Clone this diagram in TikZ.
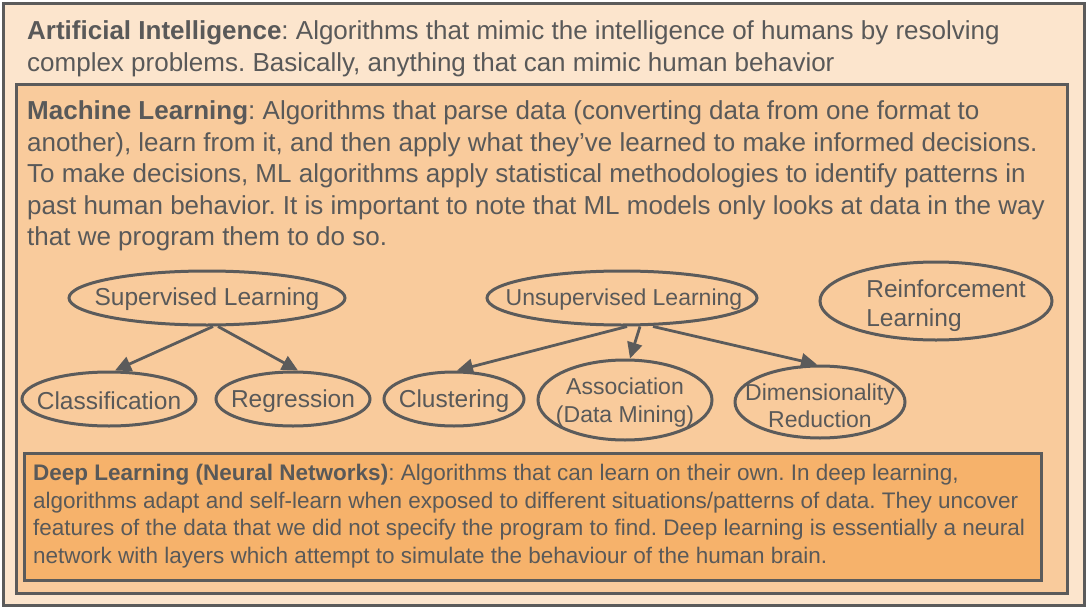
\documentclass[tikz,border=0pt]{standalone}
\usepackage{fontspec}
\setmainfont{Liberation Sans}
\usetikzlibrary{shapes.geometric,arrows.meta}
\frenchspacing
\definecolor{tgray}{HTML}{595959}
\definecolor{bgray}{HTML}{5B5B5B}
\definecolor{aifill}{HTML}{FCE5CD}
\definecolor{mlfill}{HTML}{F9CB9C}
\definecolor{dlfill}{HTML}{F6B26B}
\tikzset{
  frame/.style={draw=bgray, line width=3pt},
  bigtxt/.style={anchor=base west, inner sep=0pt, text=tgray, font=\fontsize{26}{30}\selectfont},
  smalltxt/.style={anchor=base west, inner sep=0pt, text=tgray, font=\fontsize{22.5}{26}\selectfont},
  ell/.style={ellipse, draw=bgray, line width=3pt, inner sep=0pt},
  etxt/.style={inner sep=0pt, text=tgray, font=\fontsize{24.5}{29}\selectfont, align=center},
  arr/.style={draw=bgray, line width=2.8pt, -{Triangle[length=16pt,width=15pt]}}
}
\begin{document}
\begin{tikzpicture}[x=1pt,y=-1pt]
\useasboundingbox (0,0) rectangle (1086,607);
% boxes
\node[frame, fill=aifill, minimum width=1081pt, minimum height=602pt, anchor=north west, inner sep=0pt] (ai) at (2,2) {};
\node[frame, fill=mlfill, minimum width=1051pt, minimum height=509pt, anchor=north west, inner sep=0pt] (ml) at (15,83) {};
\node[frame, fill=dlfill, minimum width=1017pt, minimum height=127pt, anchor=north west, inner sep=0pt] (dl) at (23,452) {};
% AI text
\node[bigtxt] (ai1) at (27,40) {\textbf{Artificial Intelligence}: Algorithms that mimic the intelligence of humans by resolving};
\node[bigtxt] (ai2) at (27,72) {complex problems. Basically, anything that can mimic human behavior};
% ML text
\node[bigtxt] (ml1) at (27,119.5) {\textbf{Machine Learning}: Algorithms that parse data (converting data from one format to};
\node[bigtxt] (ml2) at (27,151.1) {another), learn from it, and then apply what they’ve learned to make informed decisions.};
\node[bigtxt] (ml3) at (27,182.7) {To make decisions, ML algorithms apply statistical methodologies to identify patterns in};
\node[bigtxt] (ml4) at (27,214.3) {past human behavior. It is important to note that ML models only looks at data in the way};
\node[bigtxt] (ml5) at (27,245.9) {that we program them to do so.};
% DL text
\node[smalltxt] (dl1) at (33,480.5) {\textbf{Deep Learning (Neural Networks)}: Algorithms that can learn on their own. In deep learning,};
\node[smalltxt] (dl2) at (33,508) {algorithms adapt and self-learn when exposed to different situations/patterns of data. They uncover};
\node[smalltxt] (dl3) at (33,535.5) {features of the data that we did not specify the program to find. Deep learning is essentially a neural};
\node[smalltxt] (dl4) at (33,563) {network with layers which attempt to simulate the behaviour of the human brain.};
% ellipses
\node[ell, minimum width=276pt, minimum height=54pt] (sup) at (207,298) {};
\node[ell, minimum width=174pt, minimum height=54pt] (cls) at (109,399) {};
\node[ell, minimum width=154pt, minimum height=54pt] (reg) at (293,399) {};
\node[ell, minimum width=270pt, minimum height=54pt] (uns) at (622,298) {};
\node[ell, minimum width=140pt, minimum height=54pt] (clu) at (454,399) {};
\node[ell, minimum width=174pt, minimum height=80pt] (aso) at (625,400) {};
\node[ell, minimum width=170pt, minimum height=72pt] (dim) at (820,402) {};
\node[ell, minimum width=232pt, minimum height=78pt] (rei) at (936,301) {};
% ellipse texts
\node[etxt] (supT) at ([yshift=-1.5pt]sup) {Supervised Learning};
\node[etxt] (clsT) at ([yshift=-2pt]cls) {Classification};
\node[etxt] (regT) at ([yshift=-2pt]reg) {Regression};
\node[etxt, font=\fontsize{23}{28}\selectfont] (unsT) at ([xshift=2pt,yshift=-1.5pt]uns) {Unsupervised Learning};
\node[etxt] (cluT) at ([yshift=-2pt]clu) {Clustering};
\node[etxt, font=\fontsize{23}{28}\selectfont] (asoT) at ([yshift=-2.5pt]aso) {Association\\(Data Mining)};
\node[etxt, font=\fontsize{23}{27}\selectfont] (dimT) at ([yshift=-4pt]dim) {Dimensionality\\Reduction};
\node[etxt, align=left, font=\fontsize{24.5}{29}\selectfont] (reiT) at ([xshift=10pt,yshift=-5pt]rei) {Reinforcement\\Learning};
% arrows
\draw[arr] ([xshift=6pt]sup.south) -- ([xshift=6pt]cls.north);
\draw[arr] ([xshift=11pt]sup.south) -- ([xshift=5pt]reg.north);
\draw[arr] ([xshift=5pt]uns.south) -- ([xshift=3pt]clu.north);
\draw[arr] ([xshift=18pt]uns.south) -- ([xshift=5pt]aso.north);
\draw[arr] ([xshift=31pt]uns.south) -- ([xshift=-3pt]dim.north);
\end{tikzpicture}
\end{document}
